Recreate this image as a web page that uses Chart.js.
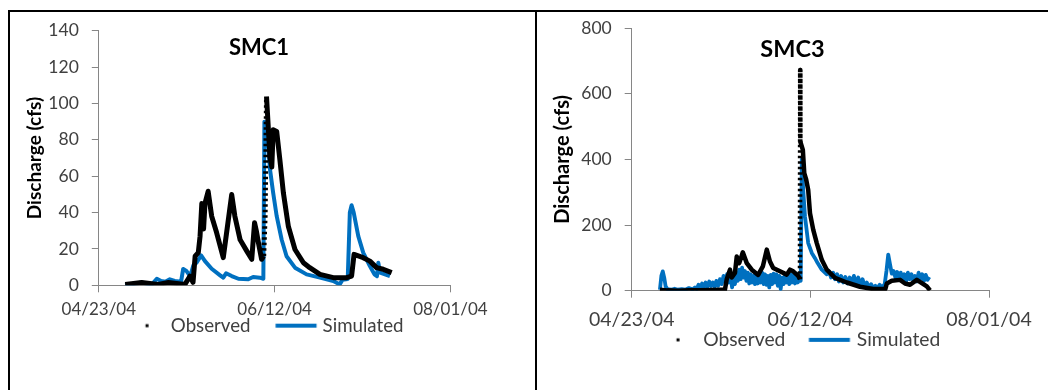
<!DOCTYPE html>
<html><head><meta charset="utf-8">
<script src="https://cdn.jsdelivr.net/npm/chart.js@4.4.1/dist/chart.umd.min.js"></script>
<style>
html,body{margin:0;padding:0;background:#fff;}
body{width:1048px;height:390px;position:relative;overflow:hidden;}
.rule{position:absolute;background:#000;}
.wrap{position:absolute;top:12px;height:378px;}
</style></head><body>
<div class="rule" style="left:8px;top:10px;width:1040px;height:2px"></div>
<div class="rule" style="left:8px;top:10px;width:2px;height:380px"></div>
<div class="rule" style="left:535px;top:10px;width:2px;height:380px"></div>
<div class="wrap" style="left:10px;width:524px"><canvas id="c1"></canvas></div>
<div class="wrap" style="left:537px;width:511px"><canvas id="c2"></canvas></div>
<script>
// ---- data (x = days after 04/23/04) ----
const xTickDays = [0, 50, 100];
const xTickLabels = ['04/23/04', '06/12/04', '08/01/04'];
const seriesNames = ['Observed', 'Simulated'];
const chartTitles = ['SMC1', 'SMC3'];
const yAxisTitle = 'Discharge (cfs)';

const smc1ObsDays = [7.5,12.2,16.9,19.8,24.5,25.9,26.8,27.4,28.3,28.8,29.3,29.8,30.2,31.1,32.1,33.5,35.4,37.8,38.7,40.2,42.1,43.5,44.3,44.8,45.4,46.3,46.9,47.3,47.7,48.2,48.7,49.2,49.6,50.6,51.5,52.5,53.9,55.8,58.2,60,62.9,66.7,70.5,71.9,72.6,75.2,77.1,79,80.9,83.3];
const smc1ObsCfs  = [0.5,1.5,0.5,1.5,0.5,5,1.6,16,18,27,45,31,45,51.7,38,29,15.2,49.9,38,25,18.8,14.3,34.4,30,23.4,14.3,16,38,103.8,87,70,65,85.5,84.6,69,50.8,32.5,19.7,12.4,9.7,6,4.2,4.2,5.1,17,15.2,13.3,9.7,8.8,7];
const smc1SimDays = [7.5,12.2,15,16.5,17.7,18.9,20.2,21.6,23.4,24,24.9,26,26.9,27.8,29.1,30.2,32.1,34.5,35.4,36.2,37.8,39.7,42.5,43.9,45.8,46.8,47.1,48.2,48.7,49.6,50.6,52,53.4,55.8,59.1,62.9,66.7,68.5,69.3,70.8,71.4,71.9,72.5,73.8,75.2,77.1,78.4,79.1,79.5,80,82.8];
const smc1SimCfs  = [0,1.5,0.3,3.6,2.4,2,3.3,2.4,2,9,7.9,5,11,12.4,16.4,13.3,9.1,5.5,4.2,6.6,5.1,3.6,3.3,4.6,4.2,3.6,90,76,63.6,50.8,38,25.2,16,9.7,6,4.2,2.4,0.5,3,3.5,40,44,40,27,18,10.6,6,5,12.4,7,5.1];

const smc3ObsDays = [7.9,10,13,16,19,22,24.7,26.1,26.6,27.5,28,28.9,29.4,30.1,30.6,31.1,32.2,33.6,35.4,36.7,37.8,38.7,39.6,41.5,43.4,44.3,45.2,46.6,47.1,47.15,47.2,47.9,48.3,48.8,49.4,49.9,50.8,51.8,53.2,54.6,56.9,60.2,63.9,67.6,71,71.4,72.8,75.1,76.5,77.9,79.8,81.2,82.6,83.5];
const smc3ObsCfs  = [3,1,0,1,1,2,3,3,35,64,40,54,104,84,100,117,84,64,48,74,125,89,69,59,49,64,59,45,35,672,454,429,358,340,307,236,186,145,94,64,39,25,12,5,5,22,30,33,22,18,33,23,13,1];
const smc3SimDays = [7.9,8.3,8.7,9.1,9.5,10,11,12,13,14,15,16,17,17.7,18.2,18.7,19.2,19.7,20.2,20.7,21.2,21.7,22.2,22.7,23.2,23.7,24.2,24.7,25.2,25.7,26.2,26.7,27.2,27.7,28.1,28.5,28.9,29.3,29.7,30.1,30.5,30.9,31.3,31.7,32.1,32.5,32.9,33.3,33.7,34.1,34.5,34.9,35.3,35.7,36.1,36.5,36.9,37.3,37.7,38.1,38.5,38.9,39.3,39.7,40.1,40.5,40.9,41.3,41.7,42.1,42.5,42.9,43.3,43.7,44.1,44.5,44.9,45.3,45.7,46.1,46.5,46.9,47.3,47.6,48,48.5,49.4,50.4,51.3,52,53.2,54.6,55.2,55.8,56.4,56.9,57.5,58,58.6,59.2,59.8,60.4,61,61.6,62.2,62.8,63.4,64,64.6,65.2,65.8,66.4,67,67.6,68.2,68.8,69.4,70,70.8,71.3,71.8,72.3,72.8,73.3,73.8,74.3,74.8,75.3,75.8,76.3,76.8,77.3,77.8,78.3,78.8,79.3,79.8,80.3,80.8,81.3,81.8,82.3,82.8,83.3];
const smc3SimCfs  = [3,45,59,40,13,5,3,6,3,5,3,8,4,10,5,18,8,22,10,25,12,28,14,25,12,30,15,35,20,45,28,50,25,40,10,35,20,55,30,64,35,70,40,60,30,55,22,50,25,45,20,48,22,50,25,55,20,50,18,45,10,48,20,52,25,50,15,45,5,40,20,50,25,45,20,50,25,48,22,52,25,50,30,400,307,226,145,115,99,85,64,50,60,40,55,35,50,28,45,25,42,22,40,25,45,22,40,18,35,15,25,8,20,8,15,8,18,10,20,60,110,80,52,60,40,57,35,55,30,50,28,55,35,50,30,45,28,55,35,50,30,48,33,42];

// ---- styling ----
const FONT = 'Lato';
const BLACK = '#000000';
const BLUE = '#0070C0';
const AXIS = '#868686';
const TICKTXT = '#404040';

function pts(xs, ys) { return xs.map((x, i) => ({x: x, y: ys[i]})); }

function legendImg(kind, offset) {
  const c = document.createElement('canvas');
  c.width = 100; c.height = 8;
  const g = c.getContext('2d');
  if (kind === 'dot') {
    g.fillStyle = BLACK;
    g.fillRect(50 + offset - 1.5, 2.5, 3, 3);
  } else {
    g.strokeStyle = BLUE; g.lineWidth = 4; g.lineCap = 'butt';
    g.beginPath(); g.moveTo(50 + offset - 20.5, 4); g.lineTo(50 + offset + 20.5, 4); g.stroke();
  }
  return c;
}

function steep(ctx) {
  const dy = Math.abs(ctx.p1.y - ctx.p0.y), dx = Math.abs(ctx.p1.x - ctx.p0.x);
  return (dy > 40 && dy > 20 * dx) ? [2.5, 3] : undefined;
}

function makeChart(id, o) {
  return new Chart(document.getElementById(id), {
    type: 'line',
    data: {
      datasets: [
        {label: seriesNames[0], data: pts(o.obsX, o.obsY), yAxisID: 'y', borderColor: BLACK, backgroundColor: BLACK,
         borderWidth: o.obsW, pointRadius: 0, tension: 0, borderJoinStyle: 'round', borderCapStyle: 'butt',
         segment: {borderDash: steep}},
        {label: seriesNames[1], data: pts(o.simX, o.simY), yAxisID: 'y', borderColor: BLUE, backgroundColor: BLUE,
         borderWidth: o.simW, pointRadius: 0, tension: 0, borderJoinStyle: 'round'}
      ]
    },
    options: {
      responsive: true, maintainAspectRatio: false, animation: false,
      layout: {padding: {left: 0, right: o.padR, top: o.padT, bottom: o.padB}},
      plugins: {
        tooltip: {enabled: false},
        title: {display: true, text: o.title, color: BLACK,
                font: {family: FONT, weight: 'bold', size: o.titleSize, lineHeight: 1.2},
                padding: {top: o.titleTop, bottom: -(o.titleSize * 1.2 + o.titleTop)}},
        legend: {position: 'bottom', fullSize: false, align: 'start',
          labels: {usePointStyle: true, pointStyleWidth: o.legBox, padding: o.legPad, color: TICKTXT,
                   font: {family: FONT, size: o.legSize, lineHeight: 1.2},
                   generateLabels: () => [
                     {text: seriesNames[0], pointStyle: legendImg('dot', o.offDot), fillStyle: BLACK, strokeStyle: BLACK, lineWidth: 0, datasetIndex: 0, fontColor: TICKTXT},
                     {text: seriesNames[1], pointStyle: legendImg('line', o.offLine), fillStyle: BLUE, strokeStyle: BLUE, lineWidth: 0, datasetIndex: 1, fontColor: TICKTXT}
                   ]}}
      },
      scales: {
        x: {type: 'linear', min: 0, max: 100,
            afterBuildTicks: s => { s.ticks = xTickDays.map(v => ({value: v})); },
            afterFit: s => { s.height = o.xH; },
            ticks: {callback: v => xTickLabels[xTickDays.indexOf(v)], color: TICKTXT, padding: o.xPad,
                    maxRotation: 0, autoSkip: false, font: {family: FONT, size: o.xSize, lineHeight: 1.0}},
            grid: {drawOnChartArea: false, drawTicks: true, tickLength: 7, color: AXIS, lineWidth: 1},
            border: {display: true, color: AXIS, width: 1}},
        y: {position: 'left', min: 0, max: o.yMax,
            afterFit: s => { s.width = o.yW; },
            ticks: {stepSize: o.yStep, color: TICKTXT, padding: 13, font: {family: FONT, size: 17.5, lineHeight: 0.3}},
            grid: {drawOnChartArea: false, drawTicks: true, tickLength: 7, color: AXIS, lineWidth: 1},
            border: {display: true, color: AXIS, width: 1},
            title: {display: true, text: yAxisTitle, color: BLACK,
                    font: {family: FONT, weight: 'bold', size: o.yTitleSize, lineHeight: 1.2},
                    padding: {top: o.yTitleTop, bottom: 0}}},
        yR: {position: 'right', display: true, min: 0, max: 1,
             afterFit: s => { s.width = o.rightW; },
             ticks: {display: false}, grid: {display: false}, border: {display: false}}
      }
    }
  });
}

makeChart('c1', {
  obsX: smc1ObsDays, obsY: smc1ObsCfs, simX: smc1SimDays, simY: smc1SimCfs, obsW: 5, simW: 4,
  title: chartTitles[0], titleSize: 22, titleTop: 4.1,
  padR: 26, rightW: 57.6, padT: 18.7, padB: 45,
  yW: 88.8, yMax: 140, yStep: 20, yTitleSize: 19, yTitleTop: 13.6,
  xH: 32, xPad: 8.5, xSize: 17,
  legBox: 63.7, legPad: -1, legSize: 18.7, offDot: 17.35, offLine: 14.65
});
makeChart('c2', {
  obsX: smc3ObsDays, obsY: smc3ObsCfs, simX: smc3SimDays, simY: smc3SimCfs, obsW: 4.5, simW: 3.8,
  title: chartTitles[1], titleSize: 23.5, titleTop: 6.9,
  padR: 0, rightW: 59, padT: 16, padB: 30.5,
  yW: 94.7, yMax: 800, yStep: 200, yTitleSize: 20, yTitleTop: 14,
  xH: 37, xPad: 12.25, xSize: 19.5,
  legBox: 59.3, legPad: 2.5, legSize: 19.3, offDot: 14.15, offLine: 11.85
});
</script>
</body></html>
